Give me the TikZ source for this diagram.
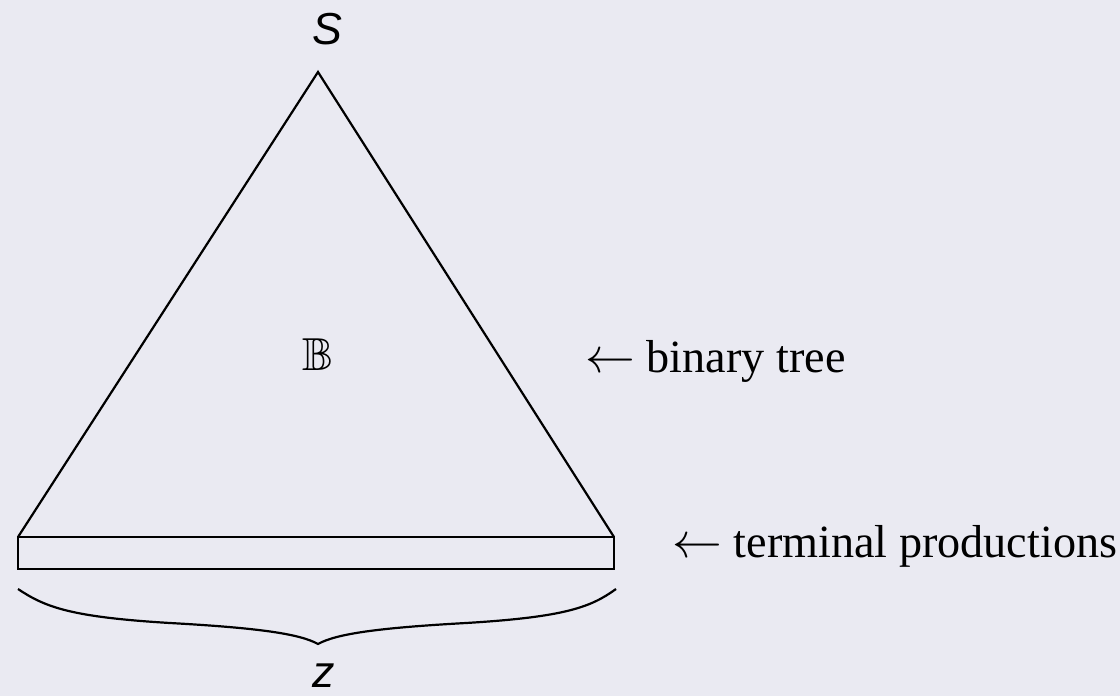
\documentclass[tikz,border=0pt]{standalone}
\usepackage{amssymb}
\usepackage{fontspec}
\setmainfont{Liberation Serif}
\setsansfont{Liberation Sans}
\usetikzlibrary{positioning}
\definecolor{slidebg}{RGB}{234,234,242}

\begin{document}
\begin{tikzpicture}[
  x=0.5pt, y=-0.5pt,
  every node/.style={font=\fontsize{23.1}{28}\selectfont, inner sep=0pt},
  note/.style={anchor=base west},
  var/.style={anchor=base, font=\fontsize{22.4}{27}\selectfont\sffamily\itshape},
  outline/.style={line width=1.1pt, line join=miter}
]
\fill[slidebg] (0,0) rectangle (1120,696);
\useasboundingbox (0,0) rectangle (1120,696);

\coordinate (apex) at (318,72);
\coordinate (bl) at (18,537);
\coordinate (br) at (614,537);
\coordinate (rb) at (614,569);
\coordinate (zl) at (18,589);
\coordinate (zr) at (616,589);
\coordinate (tip) at (318,644);

\node[var] (start) at (327,45) {S};
\node[anchor=base] (bin) at (318,370) {$\mathbb{B}$};
\node[var] (word) at (324,687) {z};
\node[note] (tree) at (585,372) {$\leftarrow$ binary tree};
\node[note] (term) at (672,557) {$\leftarrow$ terminal productions};

% tree and bottom layer
\draw[outline] (bl) -- (apex) -- (br);
\draw[outline] (bl) rectangle (rb);

% brace over the word
\draw[outline] (zl) .. controls (45,607) and (70,617) .. (170,623)
  .. controls (260,628) and (300,634) .. (tip)
  .. controls (336,634) and (376,628) .. (466,623)
  .. controls (566,617) and (591,607) .. (zr);
\end{tikzpicture}
\end{document}
